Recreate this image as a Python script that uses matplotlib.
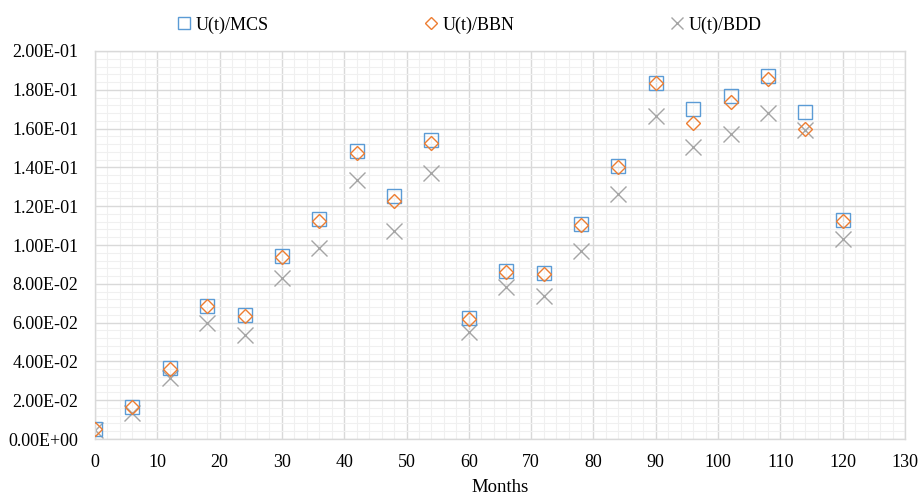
import matplotlib
matplotlib.use("Agg")
import matplotlib.pyplot as plt
from matplotlib.ticker import MultipleLocator, FuncFormatter

plt.rcParams['font.family'] = ['Liberation Serif', 'DejaVu Serif']

months = [0, 6, 12, 18, 24, 30, 36, 42, 48, 54, 60, 66, 72, 78, 84, 90, 96, 102, 108, 114, 120]
u_mcs = [0.0053, 0.0166, 0.0364, 0.0687, 0.0641, 0.0942, 0.1134, 0.1486, 0.1253, 0.1541, 0.0622,
         0.0866, 0.0857, 0.1108, 0.1409, 0.1837, 0.1700, 0.1768, 0.1871, 0.1687, 0.1129]
u_bbn = [0.0052, 0.0165, 0.0362, 0.0687, 0.0633, 0.0940, 0.1125, 0.1473, 0.1227, 0.1527, 0.0619,
         0.0863, 0.0850, 0.1103, 0.1404, 0.1833, 0.1630, 0.1739, 0.1856, 0.1598, 0.1125]
u_bdd = [0.0049, 0.0136, 0.0316, 0.0600, 0.0536, 0.0828, 0.0983, 0.1335, 0.1074, 0.1373, 0.0553,
         0.0782, 0.0737, 0.0970, 0.1261, 0.1665, 0.1507, 0.1572, 0.1682, 0.1593, 0.1029]
labels = ["U(t)/MCS", "U(t)/BBN", "U(t)/BDD"]

fig = plt.figure(figsize=(9.19, 4.95), dpi=100)
ax = fig.add_axes([0.1034, 0.1131, 0.8814, 0.7839])

ax.plot(months, u_mcs, linestyle='none', marker='s', markersize=10.5, markerfacecolor='none',
        markeredgecolor='#5B9BD5', markeredgewidth=1.0, label=labels[0], zorder=3)
ax.plot(months, u_bbn, linestyle='none', marker='D', markersize=7, markerfacecolor='none',
        markeredgecolor='#ED7D31', markeredgewidth=1.0, label=labels[1], zorder=4)
ax.plot(months, u_bdd, linestyle='none', marker='x', markersize=11,
        markeredgecolor='#A5A5A5', markeredgewidth=1.0, label=labels[2], zorder=2)

ax.set_xlim(0, 130)
ax.set_ylim(0, 0.2)
ax.xaxis.set_major_locator(MultipleLocator(10))
ax.xaxis.set_minor_locator(MultipleLocator(2))
ax.yaxis.set_major_locator(MultipleLocator(0.02))
ax.yaxis.set_minor_locator(MultipleLocator(0.004))
ax.yaxis.set_major_formatter(FuncFormatter(lambda v, p: f"{v:.2E}"))

ax.grid(which='major', color='#D9D9D9', linewidth=1.0, zorder=0)
ax.grid(which='minor', color='#F0F0F0', linewidth=0.8, zorder=0)
ax.set_axisbelow(True)
for s in ax.spines.values():
    s.set_color('#D9D9D9')
    s.set_linewidth(1.0)
ax.tick_params(which='both', length=0, labelsize=13, colors='#000000')
ax.tick_params(axis='x', pad=10.5)
ax.tick_params(axis='y', pad=12)

ax.set_xlabel("Months", fontsize=13.5, labelpad=6)

fig.legend(loc='center', bbox_to_anchor=(469/919, 1 - 25/495), ncol=3, frameon=False,
           fontsize=13, columnspacing=8.6, handletextpad=0.25, handlelength=0.8,
           markerscale=0.85)

fig.savefig("out.png", dpi=100)
